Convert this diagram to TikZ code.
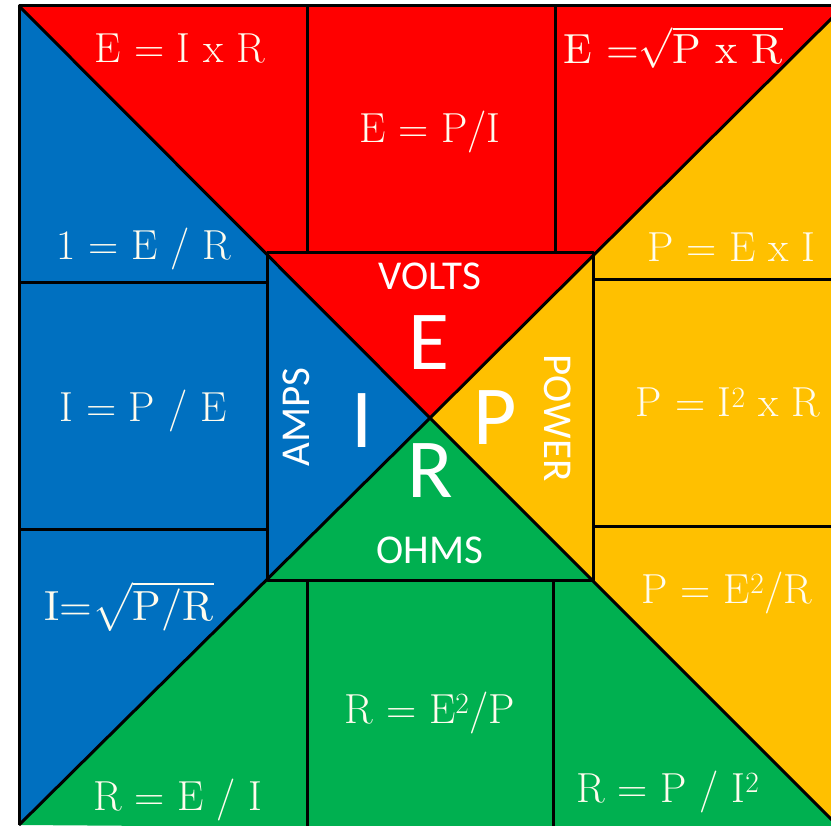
\documentclass[tikz,border=0pt]{standalone}
\usepackage{fontspec}
\usepackage{graphicx}
\usepackage{tikz}
\newfontfamily\calibrifont{Carlito}
\usepackage{xcolor}
\definecolor{voltred}{RGB}{255,0,0}
\definecolor{ampblue}{RGB}{0,112,192}
\definecolor{powergold}{RGB}{255,192,0}
\definecolor{ohmgreen}{RGB}{0,176,80}
\definecolor{chalk}{RGB}{255,252,238}
\newcommand{\rootformula}[1]{\scalebox{4.05}{\fontsize{10.4}{12}\selectfont #1}}
\tikzset{
  formula/.style={text=chalk, anchor=base, inner sep=0pt, font=\fontsize{42}{50}\selectfont},
  unitlabel/.style={text=white, inner sep=0pt, font=\calibrifont\fontsize{41}{46}\selectfont},
  bigletter/.style={text=white, anchor=base, inner sep=0pt, font=\calibrifont\fontsize{84}{90}\selectfont},
  divider/.style={black, line width=3pt, line join=round},
}

\begin{document}
\begin{tikzpicture}[x=1pt,y=-1pt]
\useasboundingbox (0,0) rectangle (831,826);
\fill[white] (0,0) rectangle (831,826);
\clip (0,0) rectangle (831,826);
% outer corners, centre and inner square
\coordinate (tl) at (19,6);
\coordinate (tr) at (844,6);
\coordinate (br) at (843,831);
\coordinate (bl) at (19,825);
\coordinate (c) at (430,418);
\coordinate (itl) at (267,253);
\coordinate (ibr) at (593,580);

\fill[voltred] (tl) -- (tr) -- (c) -- cycle;
\fill[powergold] (tr) -- (br) -- (c) -- cycle;
\fill[ohmgreen] (br) -- (bl) -- (c) -- cycle;
\fill[ampblue] (bl) -- (tl) -- (c) -- cycle;

\draw[divider] (tl) -- (c) -- (br) (tr) -- (c) -- (bl);
\draw[divider] (itl) rectangle (ibr);
\draw[divider] (bl) -- (tl) -- (tr);
\draw[divider] (307,6) -- (307,253) (555,6) -- (555,253);
\draw[divider] (19,283) -- (267,283) (19,530) -- (267,530);
\draw[divider] (593,280) -- (844,280) (593,527) -- (844,527);
\draw[divider] (307,580) -- (307,826) (553,580) -- (553,826);

% formulas
\node[formula] (eIR) at (180,63) {E = I x R};
\node[formula] (ePI) at (430,143) {E = P/I};
\node[formula] (ePR) at (673,64) {\rootformula{E =$\sqrt{\mbox{P x R}}$}};
\node[formula] (iER) at (144,260) {1 = E / R};
\node[formula] (iPE) at (143,422) {I = P / E};
\node[formula] (iPR) at (129,620) {\rootformula{I=$\sqrt{\mbox{P/R}}$}};
\node[formula] (rEI) at (178,810) {R = E / I};
\node[formula] (rEP) at (430,723) {R = E\textsuperscript{2}/P};
\node[formula] (rPI) at (668,802) {R = P / I\textsuperscript{2}};
\node[formula] (pEI) at (731,262) {P = E x I};
\node[formula] (pIR) at (728,417) {P = I\textsuperscript{2} x R};
\node[formula] (pER) at (727,603) {P = E\textsuperscript{2}/R};

% centre labels
\node[unitlabel, anchor=base] (volts) at (430,290) {VOLTS};
\node[unitlabel, anchor=base] (ohms) at (430,563) {OHMS};
\node[unitlabel, rotate=90] (amps) at (296,417) {AMPS};
\node[unitlabel, rotate=-90] (power) at (558,418) {POWER};
\node[bigletter] (lE) at (429,370) {E};
\node[bigletter] (lI) at (362,448) {I};
\node[bigletter] (lP) at (495,445) {P};
\node[bigletter] (lR) at (430,497) {R};
\end{tikzpicture}
\end{document}
